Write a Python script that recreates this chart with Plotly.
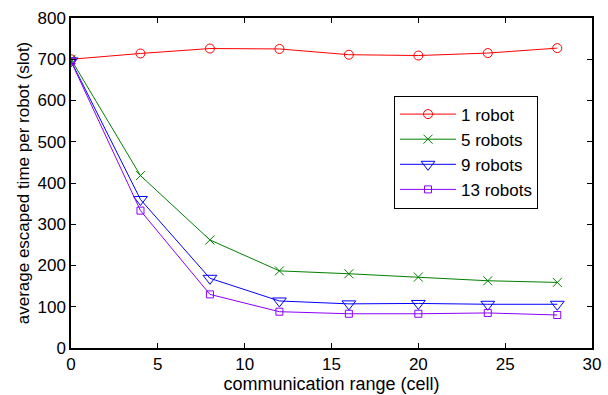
import plotly.graph_objects as go

x_range = [0, 4, 8, 12, 16, 20, 24, 28]
names = ["1 robot", "5 robots", "9 robots", "13 robots"]
robot1 = [700, 714, 726, 725, 711, 709, 715, 727]
robot5 = [700, 418, 262, 187, 180, 172, 163, 159]
robot9 = [696, 360, 169, 114, 107, 108, 106, 106]
robot13 = [695, 333, 130, 88, 83, 83, 85, 80]
x_ticks = [0, 5, 10, 15, 20, 25, 30]
y_ticks = [0, 100, 200, 300, 400, 500, 600, 700, 800]

series = [robot1, robot5, robot9, robot13]
colors = ["#ff0000", "#008000", "#0000ff", "#8a00ff"]
symbols = ["circle-open", "x-thin-open", "triangle-down-open", "square-open"]
sizes = [9, 9, 12, 7]

fig = go.Figure()
for n, s, c, sym, sz in zip(names, series, colors, symbols, sizes):
    fig.add_trace(go.Scatter(
        x=x_range, y=s, name=n, mode="lines+markers",
        line=dict(color=c, width=1),
        marker=dict(symbol=sym, size=sz, color=c, line=dict(color=c, width=1)),
    ))

axis_common = dict(
    showgrid=False, zeroline=False, showline=True, mirror="ticks",
    linecolor="black", linewidth=1.5, ticks="inside", ticklen=5,
    tickcolor="black", tickfont=dict(size=17, color="black"),
    automargin=False,
)
fig.update_xaxes(range=[0, 30], tickvals=x_ticks,
                 title=dict(text="communication range (cell)", font=dict(size=18, color="black"), standoff=2),
                 **axis_common)
fig.update_yaxes(range=[0, 800], tickvals=y_ticks,
                 title=dict(text="average escaped time per robot (slot)", font=dict(size=17, color="black"), standoff=4),
                 **axis_common)

fig.update_layout(
    width=608, height=395,
    margin=dict(l=71, r=16, t=18, b=47),
    paper_bgcolor="white", plot_bgcolor="white",
    font=dict(family="Liberation Sans, Arial, sans-serif", color="black"),
    legend=dict(x=0.62, y=0.765, xanchor="left", yanchor="top",
                bordercolor="black", borderwidth=1, bgcolor="white",
                font=dict(size=17), tracegroupgap=0, itemwidth=56),
)
fig.write_html("out.html", config={"displayModeBar": False},
               post_script="document.body.style.margin='0';")
